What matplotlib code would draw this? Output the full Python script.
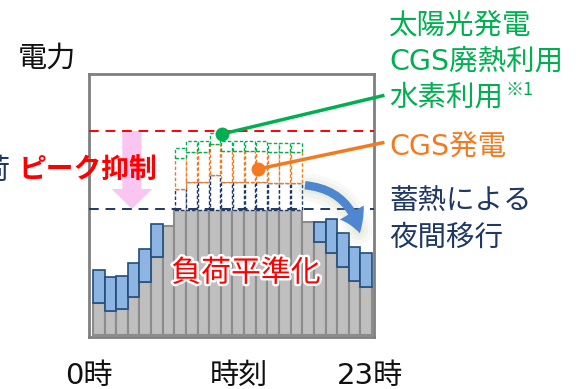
import numpy as np
import matplotlib.pyplot as plt
import matplotlib.patheffects as pe
from matplotlib.patches import FancyArrowPatch, FancyArrow

# DejaVu for latin (wide, like the original), CJK fallback for kanji
plt.rcParams['font.family'] = ['DejaVu Sans', 'Noto Sans CJK JP']

# ---------------------------
# Data
# ---------------------------
hours = np.arange(24)
base_load = [32, 24, 26, 38, 53, 78, 109, 125, 125, 125, 125, 125,
             125, 125, 125, 125, 125, 125, 113, 93, 82, 68, 54, 48]
night_shift = [33, 34, 33, 34, 33, 33, 0, 0, 0, 0, 0, 0,
               0, 0, 0, 0, 0, 0, 0, 20, 34, 34, 34, 34]
heat_storage = [0, 0, 0, 0, 0, 0, 0, 21, 28, 28, 35, 28,
                28, 28, 28, 27, 27, 27, 0, 0, 0, 0, 0, 0]
cgs_power = [0, 0, 0, 0, 0, 0, 0, 31, 30, 30, 31, 31,
             31, 31, 31, 31, 31, 31, 0, 0, 0, 0, 0, 0]
renewables = [0, 0, 0, 0, 0, 0, 0, 10, 11, 11, 11, 10,
              10, 10, 10, 9, 9, 9, 0, 0, 0, 0, 0, 0]
peak_level = 204
flat_level = 126

GREEN = '#00B050'
ORANGE = '#F47A20'
NAVY = '#1F3864'
RED = '#FF0000'

W, H = 583, 389
fig = plt.figure(figsize=(W / 100, H / 100), dpi=100)
ax = fig.add_axes([89 / W, 1 - 337 / H, 285 / W, 263 / H])

def fx(px):
    return px / W

def fy(py):
    return 1 - py / H

# ---------------------------
# Bars
# ---------------------------
base_load = np.array(base_load)
night_shift = np.array(night_shift)
ax.bar(hours, base_load, width=1.0, color='#BFBFBF', edgecolor='#8C8C8C',
       linewidth=1.5, zorder=2)
m = night_shift > 0
ax.bar(hours[m], night_shift[m], bottom=base_load[m], width=1.0,
       color='#8DB4E2', edgecolor='#1F4E79', linewidth=1.2, zorder=3)

# dashed stacked boxes (peak components)
bottom = base_load.astype(float).copy()
for vals, col in [(heat_storage, NAVY), (cgs_power, ORANGE), (renewables, GREEN)]:
    vals = np.array(vals)
    k = vals > 0
    ax.bar(hours[k], vals[k], bottom=bottom[k], width=0.92, color='white',
           edgecolor=col, linewidth=1.0, linestyle=(0, (2.5, 1.5)), zorder=3)
    bottom = bottom + vals

# reference lines
ax.axhline(peak_level, color=RED, lw=1.4, ls=(0, (5, 3.5)), zorder=4)
ax.axhline(flat_level, color=NAVY, lw=1.4, ls=(0, (5, 3.5)), zorder=4)

ax.set_xlim(-0.84, 23.67)
ax.set_ylim(-2, 261)
ax.set_xticks([])
ax.set_yticks([])
for s in ax.spines.values():
    s.set_color('#7F7F7F')
    s.set_linewidth(2)

# pink arrow (peak reduction)
ax.add_patch(FancyArrow(2.85, peak_level, 0, flat_level - peak_level, width=1.65,
                        head_width=3.5, head_length=20, length_includes_head=True,
                        color='#F9C6F2', lw=0, zorder=1))

# blue curved arrow (shift to night) with soft glow
for lw, a in [(20, 0.07), (14, 0.09), (8, 0.12)]:
    ax.add_patch(FancyArrowPatch((17.8, 148), (22.4, 102), connectionstyle='arc3,rad=-0.35',
                                 arrowstyle='-', color='#A8B88A', lw=lw, alpha=a, zorder=4))
ax.add_patch(FancyArrowPatch((17.5, 150), (22.5, 99), connectionstyle='arc3,rad=-0.38',
                             arrowstyle='simple,head_width=2.0,head_length=1.6,tail_width=0.6',
                             mutation_scale=10, color='#4F86D0', lw=0, zorder=5))

# callout lines
green_dot = (10.6, 201)
orange_dot = (13.7, 166)
ax.plot(*green_dot, 'o', color=GREEN, ms=9, zorder=6, clip_on=False)
ax.plot(*orange_dot, 'o', color=ORANGE, ms=9, zorder=6, clip_on=False)
gx = (382.7 - 93) / 11.625 - 0.5
ax.plot([green_dot[0], gx], [green_dot[1], 335 - 95.7], color=GREEN, lw=2.5,
        zorder=6, clip_on=False)
ax.plot([orange_dot[0], gx], [orange_dot[1], 335 - 142.7], color=ORANGE, lw=2.5,
        zorder=6, clip_on=False)

# ---------------------------
# Texts
# ---------------------------
fig.text(fx(47), fy(59), '電力', fontsize=21, ha='center', va='center', color='#111111')
fig.text(fx(9), fy(171), '荷', fontsize=21, ha='right', va='center', color=NAVY)
fig.text(fx(88), fy(170), 'ピーク抑制', fontsize=20, fontweight='bold', ha='center',
         va='center', color=RED, zorder=7)
fig.text(fx(246), fy(273), '負荷平準化', fontsize=21.5, ha='center', va='center', color=RED,
         path_effects=[pe.withStroke(linewidth=3.5, foreground='white')], zorder=7)

fig.text(fx(389), fy(26), '太陽光発電', fontsize=20.5, ha='left', va='center', color=GREEN)
fig.text(fx(389), fy(62), 'CGS廃熱利用', fontsize=20.5, ha='left', va='center', color=GREEN)
fig.text(fx(389), fy(98), '水素利用', fontsize=20.5, ha='left', va='center', color=GREEN)
fig.text(fx(506), fy(90), '※1', fontsize=13, ha='left', va='center', color=GREEN,
         family=['Noto Sans CJK JP', 'DejaVu Sans'])
fig.text(fx(389), fy(147), 'CGS発電', fontsize=20.5, ha='left', va='center', color=ORANGE)
fig.text(fx(389), fy(201), '蓄熱による', fontsize=20.5, ha='left', va='center', color=NAVY)
fig.text(fx(389), fy(238), '夜間移行', fontsize=20.5, ha='left', va='center', color=NAVY)

fig.text(fx(89), fy(376), '0時', fontsize=21, ha='center', va='center', color='#111111')
fig.text(fx(239), fy(376), '時刻', fontsize=21, ha='center', va='center', color='#111111')
fig.text(fx(370), fy(376), '23時', fontsize=21, ha='center', va='center', color='#111111')

fig.savefig('out.png', dpi=100)
